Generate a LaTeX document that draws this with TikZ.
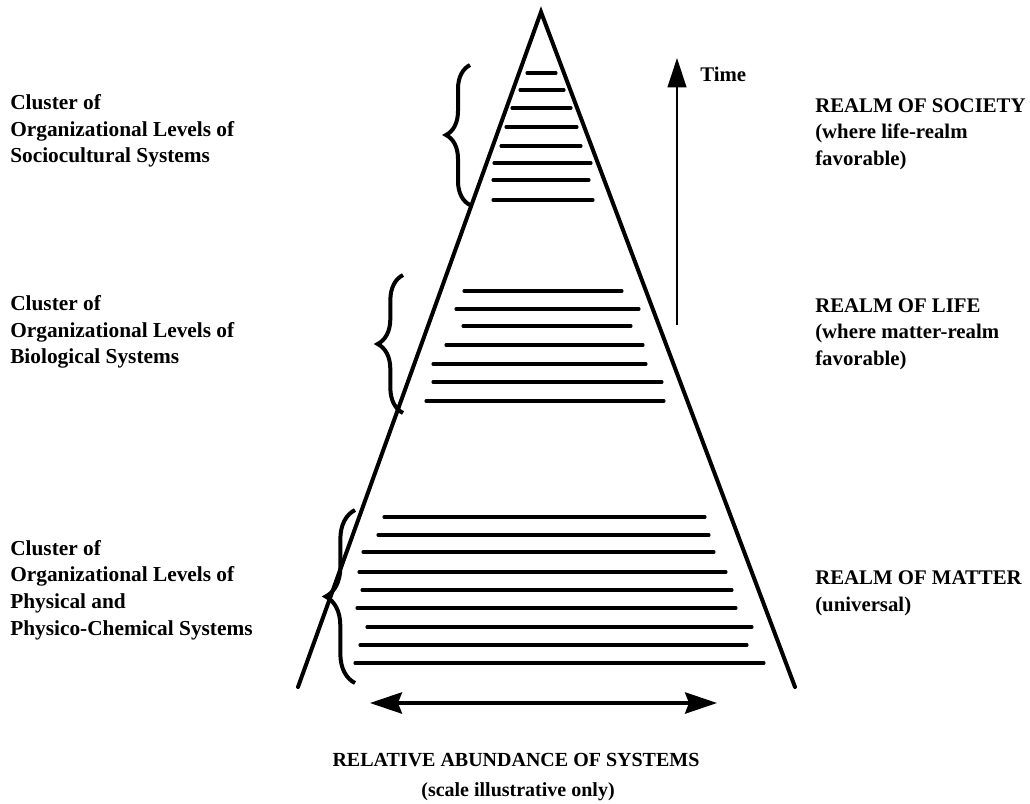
\documentclass[tikz,border=0pt]{standalone}
\usepackage{fontspec}
\setmainfont{Liberation Serif}
\usetikzlibrary{arrows.meta,decorations.pathreplacing}
\begin{document}
\begin{tikzpicture}[x=0.75pt,y=-0.75pt,
  lbl/.style={font=\fontsize{16}{20}\selectfont\bfseries, align=left, inner sep=0pt},
  rlbl/.style={font=\fontsize{15.6}{20}\selectfont\bfseries, align=left, inner sep=0pt},
  ctr/.style={font=\fontsize{15}{20}\selectfont\bfseries, align=center, inner sep=0pt},
  pyredge/.style={line width=3pt, line cap=round},
  levelline/.style={line width=2.3pt, line cap=round},
  cbrace/.style={decorate, decoration={brace, amplitude=#1}, line width=3pt},
]
\useasboundingbox (0,0) rectangle (1030,803);

% pyramid
\coordinate (apex) at (541,12);
\coordinate (bl) at (298,687);
\coordinate (br) at (795,687);
\draw[pyredge] (bl) -- (apex) -- (br);

% sociocultural levels
\foreach \y/\a/\b in {73/527/556, 90/520/564, 108/512/571, 127/506/577, 146/501/581, 163/494/591, 180/493/589, 200/493/593}
  \draw[levelline] (\a,\y) -- (\b,\y);
% biological levels
\foreach \y/\a/\b in {291/464/622, 309/456/639, 326/463/631, 345/446/643, 364/433/646, 382/433/662, 401/426/664}
  \draw[levelline] (\a,\y) -- (\b,\y);
% physical levels
\foreach \y/\a/\b in {517/384/705, 535/378/709, 552/363/714, 572/359/726, 590/362/732, 608/357/736, 627/367/752, 645/360/747, 663/355/764}
  \draw[levelline] (\a,\y) -- (\b,\y);

% braces
\coordinate (b1s) at (470,205); \coordinate (b1e) at (470,65);
\coordinate (b2s) at (403,413); \coordinate (b2e) at (403,275);
\coordinate (b3s) at (355,683); \coordinate (b3e) at (355,510);
\draw[cbrace=18pt] (b1s) -- (b1e);
\draw[cbrace=19pt] (b2s) -- (b2e);
\draw[cbrace=22pt] (b3s) -- (b3e);

% time arrow
\coordinate (t0) at (677,325);
\coordinate (t1) at (677,58);
\draw[line width=1.6pt, -{Triangle[length=22pt,width=14pt]}] (t0) -- (t1);
\node[rlbl, anchor=west] (time) at (700,74) {Time};

% abundance arrow
\coordinate (a0) at (370,703);
\coordinate (a1) at (717,703);
\draw[line width=2.3pt, {Stealth[length=24pt,width=16pt,inset=3pt]}-{Stealth[length=24pt,width=16pt,inset=3pt]}] (a0) -- (a1);

% left labels
\node[lbl, anchor=west] (soc) at (10,131) {Cluster of\\Organizational Levels of\\Sociocultural Systems};
\node[lbl, anchor=west] (bio) at (10,332) {Cluster of\\Organizational Levels of\\Biological Systems};
\node[lbl, anchor=west] (phy) at (10,590) {Cluster of\\Organizational Levels of\\Physical and\\Physico-Chemical Systems};

% right labels
\node[rlbl, anchor=west] (rsoc) at (815,134) {REALM OF SOCIETY\\(where life-realm\\favorable)};
\node[rlbl, anchor=west] (rlife) at (815,334) {REALM OF LIFE\\(where matter-realm\\favorable)};
\node[rlbl, anchor=west] (rmat) at (815,593) {REALM OF MATTER\\(universal)};

% bottom labels
\node[ctr] (abund) at (516,760) {RELATIVE ABUNDANCE OF SYSTEMS};
\node[ctr] (scale) at (518,792) {(scale illustrative only)};
\end{tikzpicture}
\end{document}
